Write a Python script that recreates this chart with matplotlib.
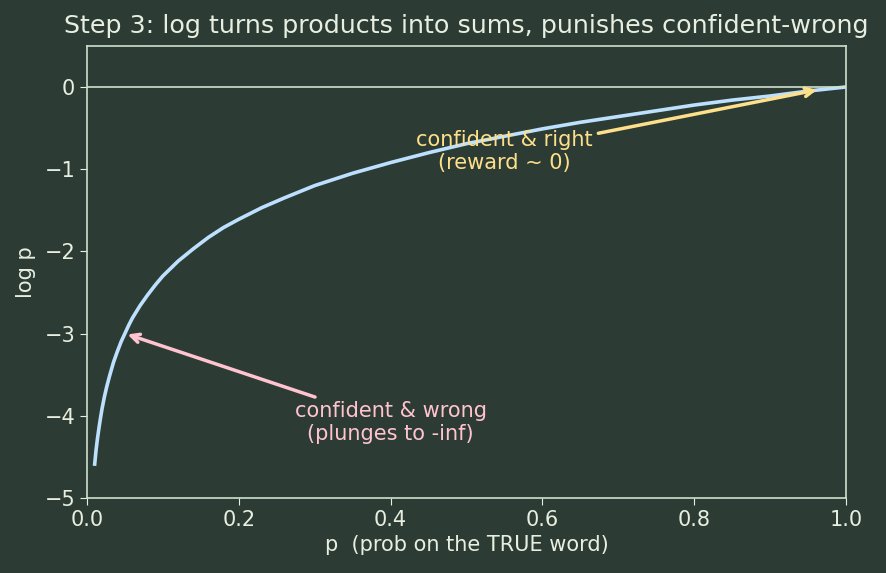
import numpy as np
import matplotlib
matplotlib.use('Agg')
import matplotlib.pyplot as plt

# p values and log p
p_vals = [0.01, 0.012, 0.014, 0.016, 0.018, 0.02, 0.023, 0.026, 0.03, 0.035, 0.04, 0.045,
          0.05, 0.055, 0.06, 0.07, 0.08, 0.09, 0.10, 0.11, 0.12, 0.14, 0.16, 0.18, 0.20,
          0.23, 0.26, 0.30, 0.35, 0.40, 0.45, 0.50, 0.55, 0.60, 0.65, 0.70, 0.75, 0.80,
          0.85, 0.90, 0.95, 1.00]
logp_vals = [-4.61, -4.42, -4.27, -4.14, -4.02, -3.91, -3.77, -3.65, -3.51, -3.35, -3.22, -3.10,
             -3.00, -2.90, -2.81, -2.66, -2.53, -2.41, -2.30, -2.21, -2.12, -1.97, -1.83, -1.71, -1.61,
             -1.47, -1.35, -1.20, -1.05, -0.92, -0.80, -0.69, -0.60, -0.51, -0.43, -0.36, -0.29, -0.22,
             -0.16, -0.11, -0.05, 0.00]

bg = '#2c3c34'
fg = '#e8efe0'
spine_c = '#cfe0d0'

fig = plt.figure(figsize=(8.87, 5.73), dpi=100, facecolor=bg)
ax = fig.add_axes([0.098, 0.131, 0.856, 0.789], facecolor=bg)

ax.plot(p_vals, logp_vals, color='#bde0fe', lw=2.6, solid_capstyle='butt')
ax.axhline(0, color=spine_c, lw=1.2)

ax.annotate('confident & wrong\n(plunges to -inf)', xy=(0.05, -3.0), xytext=(0.40, -4.08),
            ha='center', va='center', color='#ffc4d0', fontsize=15,
            arrowprops=dict(arrowstyle='->', color='#ffc4d0', lw=2.5))
ax.annotate('confident & right\n(reward ~ 0)', xy=(0.965, -0.03), xytext=(0.55, -0.79),
            ha='center', va='center', color='#ffe08a', fontsize=15,
            arrowprops=dict(arrowstyle='->', color='#ffe08a', lw=2.5))

ax.set_xlim(0, 1)
ax.set_ylim(-5, 0.5)
ax.set_yticks([0, -1, -2, -3, -4, -5])
ax.set_title('Step 3: log turns products into sums, punishes confident-wrong',
             color=fg, fontsize=18.3, pad=9.5)
ax.set_xlabel('p  (prob on the TRUE word)', color=fg, fontsize=15)
ax.set_ylabel('log p', color=fg, fontsize=15, labelpad=6)
ax.tick_params(colors=fg, labelsize=15, length=5)
for s in ax.spines.values():
    s.set_color(spine_c)
    s.set_linewidth(1.2)

fig.savefig('out.png', dpi=100, facecolor=bg)
